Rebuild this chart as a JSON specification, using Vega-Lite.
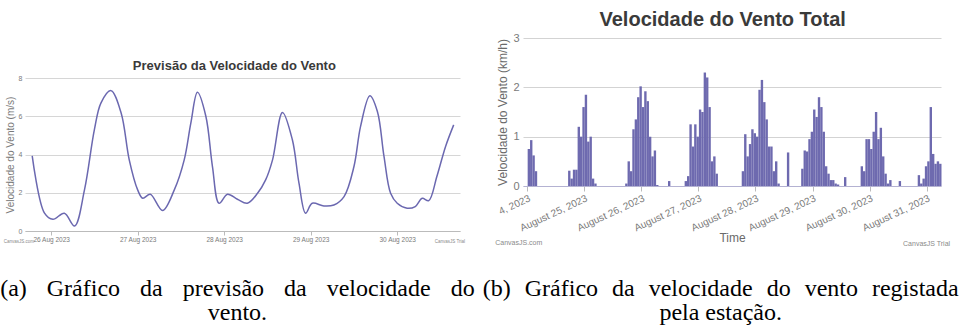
{
  "$schema": "https://vega.github.io/schema/vega-lite/v6.json",
  "padding": {"top": 10, "left": 0, "right": 0, "bottom": 0},
  "background": "white",
  "config": {
    "view": {"stroke": null},
    "font": "Liberation Sans",
    "axis": {"labelFont": "Liberation Sans", "titleFont": "Liberation Sans"}
  },
  "datasets": {
    "forecast": [
      {"t": "2023-08-25T18:45", "v": 3.93},
      {"t": "2023-08-25T22:10", "v": 0.93},
      {"t": "2023-08-26T00:30", "v": 0.61},
      {"t": "2023-08-26T03:40", "v": 0.93},
      {"t": "2023-08-26T06:30", "v": 0.26},
      {"t": "2023-08-26T09:15", "v": 2.15},
      {"t": "2023-08-26T12:00", "v": 5.3},
      {"t": "2023-08-26T13:50", "v": 6.7},
      {"t": "2023-08-26T16:35", "v": 7.34},
      {"t": "2023-08-26T19:25", "v": 6.17},
      {"t": "2023-08-26T21:40", "v": 3.72},
      {"t": "2023-08-27T00:00", "v": 2.15},
      {"t": "2023-08-27T01:25", "v": 1.71},
      {"t": "2023-08-27T03:30", "v": 1.92},
      {"t": "2023-08-27T06:55", "v": 1.07},
      {"t": "2023-08-27T10:10", "v": 2.15},
      {"t": "2023-08-27T12:55", "v": 3.72},
      {"t": "2023-08-27T14:45", "v": 5.64},
      {"t": "2023-08-27T16:35", "v": 7.25},
      {"t": "2023-08-27T18:55", "v": 6.0},
      {"t": "2023-08-27T20:45", "v": 3.37},
      {"t": "2023-08-27T22:35", "v": 1.45},
      {"t": "2023-08-28T00:55", "v": 1.92},
      {"t": "2023-08-28T03:40", "v": 1.66},
      {"t": "2023-08-28T06:25", "v": 1.45},
      {"t": "2023-08-28T09:15", "v": 1.97},
      {"t": "2023-08-28T11:30", "v": 2.67},
      {"t": "2023-08-28T13:25", "v": 3.72},
      {"t": "2023-08-28T16:10", "v": 6.2},
      {"t": "2023-08-28T18:55", "v": 4.77},
      {"t": "2023-08-28T20:45", "v": 2.5},
      {"t": "2023-08-28T22:35", "v": 0.93},
      {"t": "2023-08-29T00:25", "v": 1.45},
      {"t": "2023-08-29T03:40", "v": 1.31},
      {"t": "2023-08-29T06:25", "v": 1.36},
      {"t": "2023-08-29T09:15", "v": 1.8},
      {"t": "2023-08-29T12:00", "v": 3.37},
      {"t": "2023-08-29T13:50", "v": 5.47},
      {"t": "2023-08-29T16:25", "v": 7.07},
      {"t": "2023-08-29T18:30", "v": 6.25},
      {"t": "2023-08-29T20:20", "v": 3.9},
      {"t": "2023-08-29T22:10", "v": 1.97},
      {"t": "2023-08-30T00:00", "v": 1.45},
      {"t": "2023-08-30T02:45", "v": 1.19},
      {"t": "2023-08-30T05:00", "v": 1.28},
      {"t": "2023-08-30T06:55", "v": 1.71},
      {"t": "2023-08-30T08:45", "v": 1.59},
      {"t": "2023-08-30T11:00", "v": 2.85},
      {"t": "2023-08-30T13:25", "v": 4.42},
      {"t": "2023-08-30T15:40", "v": 5.55}
    ],
    "measured": [
      {"t": "2023-08-24T00:00", "v": 0.75}, {"t": "2023-08-24T01:00", "v": 0.93}, {"t": "2023-08-24T02:00", "v": 0.62}, {"t": "2023-08-24T03:00", "v": 0.3},
      {"t": "2023-08-24T17:00", "v": 0.31}, {"t": "2023-08-24T18:00", "v": 0.15}, {"t": "2023-08-24T19:00", "v": 0.33}, {"t": "2023-08-24T20:00", "v": 0.33},
      {"t": "2023-08-24T21:00", "v": 1.2}, {"t": "2023-08-24T22:00", "v": 1.0}, {"t": "2023-08-24T23:00", "v": 1.6},
      {"t": "2023-08-25T00:00", "v": 1.85}, {"t": "2023-08-25T01:00", "v": 0.9}, {"t": "2023-08-25T02:00", "v": 1.0}, {"t": "2023-08-25T03:00", "v": 0.15}, {"t": "2023-08-25T04:00", "v": 0.05},
      {"t": "2023-08-25T17:00", "v": 0.05}, {"t": "2023-08-25T18:00", "v": 0.5}, {"t": "2023-08-25T19:00", "v": 0.3}, {"t": "2023-08-25T20:00", "v": 1.15},
      {"t": "2023-08-25T21:00", "v": 1.35}, {"t": "2023-08-25T22:00", "v": 1.8}, {"t": "2023-08-25T23:00", "v": 2.02},
      {"t": "2023-08-26T00:00", "v": 1.6}, {"t": "2023-08-26T01:00", "v": 1.92}, {"t": "2023-08-26T02:00", "v": 1.72}, {"t": "2023-08-26T03:00", "v": 1.0},
      {"t": "2023-08-26T04:00", "v": 0.6}, {"t": "2023-08-26T05:00", "v": 0.72}, {"t": "2023-08-26T06:00", "v": 0.02}, {"t": "2023-08-26T11:00", "v": 0.1},
      {"t": "2023-08-26T18:00", "v": 0.1}, {"t": "2023-08-26T19:00", "v": 0.2}, {"t": "2023-08-26T20:00", "v": 1.25}, {"t": "2023-08-26T21:00", "v": 0.8},
      {"t": "2023-08-26T22:00", "v": 1.25}, {"t": "2023-08-26T23:00", "v": 1.0},
      {"t": "2023-08-27T00:00", "v": 1.55}, {"t": "2023-08-27T01:00", "v": 1.5}, {"t": "2023-08-27T02:00", "v": 2.3}, {"t": "2023-08-27T03:00", "v": 2.2},
      {"t": "2023-08-27T04:00", "v": 1.6}, {"t": "2023-08-27T05:00", "v": 0.5}, {"t": "2023-08-27T06:00", "v": 0.6}, {"t": "2023-08-27T07:00", "v": 0.25},
      {"t": "2023-08-27T18:00", "v": 0.3}, {"t": "2023-08-27T19:00", "v": 1.05}, {"t": "2023-08-27T20:00", "v": 0.6}, {"t": "2023-08-27T21:00", "v": 0.85},
      {"t": "2023-08-27T22:00", "v": 1.15}, {"t": "2023-08-27T23:00", "v": 1.07},
      {"t": "2023-08-28T00:00", "v": 1.0}, {"t": "2023-08-28T01:00", "v": 1.95}, {"t": "2023-08-28T02:00", "v": 2.15}, {"t": "2023-08-28T03:00", "v": 1.7},
      {"t": "2023-08-28T04:00", "v": 1.35}, {"t": "2023-08-28T05:00", "v": 0.8}, {"t": "2023-08-28T06:00", "v": 0.8}, {"t": "2023-08-28T07:00", "v": 0.3},
      {"t": "2023-08-28T08:00", "v": 0.5}, {"t": "2023-08-28T09:00", "v": 0.05}, {"t": "2023-08-28T13:00", "v": 0.68},
      {"t": "2023-08-28T19:00", "v": 0.35}, {"t": "2023-08-28T20:00", "v": 0.72}, {"t": "2023-08-28T21:00", "v": 0.7}, {"t": "2023-08-28T22:00", "v": 0.95}, {"t": "2023-08-28T23:00", "v": 1.1},
      {"t": "2023-08-29T00:00", "v": 1.55}, {"t": "2023-08-29T01:00", "v": 1.4}, {"t": "2023-08-29T02:00", "v": 1.8}, {"t": "2023-08-29T03:00", "v": 1.6},
      {"t": "2023-08-29T04:00", "v": 1.1}, {"t": "2023-08-29T05:00", "v": 0.4}, {"t": "2023-08-29T06:00", "v": 0.25}, {"t": "2023-08-29T07:00", "v": 0.12},
      {"t": "2023-08-29T08:00", "v": 0.12}, {"t": "2023-08-29T09:00", "v": 0.05}, {"t": "2023-08-29T10:00", "v": 0.03}, {"t": "2023-08-29T13:00", "v": 0.18},
      {"t": "2023-08-29T20:00", "v": 0.4}, {"t": "2023-08-29T21:00", "v": 0.3}, {"t": "2023-08-29T22:00", "v": 0.95}, {"t": "2023-08-29T23:00", "v": 0.95},
      {"t": "2023-08-30T00:00", "v": 0.75}, {"t": "2023-08-30T01:00", "v": 1.1}, {"t": "2023-08-30T02:00", "v": 1.5}, {"t": "2023-08-30T03:00", "v": 0.95},
      {"t": "2023-08-30T04:00", "v": 1.18}, {"t": "2023-08-30T05:00", "v": 0.6}, {"t": "2023-08-30T06:00", "v": 0.25}, {"t": "2023-08-30T07:00", "v": 0.05},
      {"t": "2023-08-30T08:00", "v": 0.12}, {"t": "2023-08-30T12:00", "v": 0.1},
      {"t": "2023-08-30T20:00", "v": 0.22}, {"t": "2023-08-30T21:00", "v": 0.05}, {"t": "2023-08-30T22:00", "v": 0.15}, {"t": "2023-08-30T23:00", "v": 0.4},
      {"t": "2023-08-31T00:00", "v": 0.5}, {"t": "2023-08-31T01:00", "v": 1.6}, {"t": "2023-08-31T02:00", "v": 0.65}, {"t": "2023-08-31T03:00", "v": 0.45},
      {"t": "2023-08-31T04:00", "v": 0.5}, {"t": "2023-08-31T05:00", "v": 0.45}
    ]
  },
  "spacing": 7,
  "hconcat": [
    {
      "title": {
        "text": ["(a)\u00a0\u00a0\u00a0\u200aGráfico\u00a0\u00a0\u00a0\u200ada\u00a0\u00a0\u00a0\u200aprevisão\u00a0\u00a0\u00a0\u200ada\u00a0\u00a0\u00a0\u200avelocidade\u00a0\u00a0\u00a0\u200ado", "vento."],
        "orient": "bottom", "anchor": "middle", "frame": "bounds", "font": "Liberation Serif", "fontSize": 24,
        "fontWeight": "normal", "lineHeight": 24, "color": "#000000", "offset": 33, "dx": 3
      },
      "spacing": 0,
      "vconcat": [
        {
          "width": 10,
          "height": 22,
          "data": {"values": []},
          "mark": "point"
        },
        {
          "width": 435,
          "height": 153,
          "title": {
            "text": "Previsão da Velocidade do Vento",
            "fontSize": 13, "fontWeight": "bold", "color": "#3a3a3a", "offset": 1, "frame": "bounds", "anchor": "middle"
          },
          "layer": [
            {
              "data": {"name": "forecast"},
              "mark": {"type": "line", "interpolate": "catmull-rom", "color": "#6b68b0", "strokeWidth": 1.5},
              "encoding": {
                "x": {
                  "field": "t", "type": "temporal",
                  "scale": {"domain": [
                    {"year": 2023, "month": "August", "date": 25, "hours": 16, "minutes": 45},
                    {"year": 2023, "month": "August", "date": 30, "hours": 17, "minutes": 25}
                  ]},
                  "axis": {
                    "title": null, "format": "%d %b %Y", "tickCount": {"interval": "day", "step": 1},
                    "labelFontSize": 6.5, "labelColor": "#7a7a7a", "grid": false,
                    "domainColor": "#bbbbbb", "tickColor": "#bbbbbb", "tickSize": 4, "labelPadding": 1
                  }
                },
                "y": {
                  "field": "v", "type": "quantitative",
                  "scale": {"domain": [0, 8]},
                  "axis": {
                    "values": [0, 2, 4, 6, 8], "tickCount": 5, "labelFontSize": 7, "labelColor": "#7a7a7a",
                    "ticks": false, "domain": false, "gridColor": "#d6d6d6", "labelPadding": 3,
                    "title": "Velocidade do Vento (m/s)", "titleFontSize": 10, "titleFontWeight": "normal",
                    "titleColor": "#7a7a7a", "titlePadding": 3
                  }
                }
              }
            },
            {
              "data": {"values": [{"label": "CanvasJS.com"}]},
              "mark": {"type": "text", "fontSize": 4.5, "color": "#8a8a8a", "align": "left", "baseline": "middle"},
              "encoding": {
                "x": {"datum": {"year": 2023, "month": "August", "date": 25, "hours": 10, "minutes": 50}, "type": "temporal"},
                "y": {"datum": -0.57, "type": "quantitative"},
                "text": {"field": "label"}
              }
            },
            {
              "data": {"values": [{"label": "CanvasJS Trial"}]},
              "mark": {"type": "text", "fontSize": 4.5, "color": "#8a8a8a", "align": "right", "baseline": "middle"},
              "encoding": {
                "x": {"datum": {"year": 2023, "month": "August", "date": 30, "hours": 18, "minutes": 50}, "type": "temporal"},
                "y": {"datum": -0.6, "type": "quantitative"},
                "text": {"field": "label"}
              }
            }
          ]
        }
      ]
    },
    {
      "title": {
        "text": ["(b)\u00a0\u00a0\u200aGráfico\u00a0\u00a0\u200ada\u00a0\u00a0\u200avelocidade\u00a0\u00a0\u200ado\u00a0\u00a0\u200avento\u00a0\u00a0\u200aregistada", "pela estação."],
        "orient": "bottom", "anchor": "middle", "frame": "bounds", "font": "Liberation Serif", "fontSize": 24,
        "fontWeight": "normal", "lineHeight": 24, "color": "#000000", "offset": 30, "dx": -2
      },
      "vconcat": [
        {
          "width": 418,
          "height": 148,
          "title": {
            "text": "Velocidade do Vento Total",
            "fontSize": 20, "fontWeight": "bold", "color": "#3a3a3a", "offset": 2, "frame": "bounds", "anchor": "middle"
          },
          "layer": [
            {
              "data": {"name": "measured"},
              "mark": {"type": "bar", "color": "#6e6aaf", "binSpacing": 0},
              "encoding": {
                "x": {
                  "field": "t", "type": "temporal", "timeUnit": "yearmonthdatehours",
                  "scale": {"domain": [
                    {"year": 2023, "month": "August", "date": 23, "hours": 22, "minutes": 15},
                    {"year": 2023, "month": "August", "date": 31, "hours": 6, "minutes": 0}
                  ]},
                  "axis": {
                    "title": "Time", "titleFontSize": 12, "titleFontWeight": "normal", "titleColor": "#6a6a6a", "titlePadding": 0,
                    "tickCount": {"interval": "day", "step": 1}, "labelOverlap": false,
                    "labelExpr": "timeFormat(datum.value, '%-d') == '24' ? '4, 2023' : timeFormat(datum.value, '%B %-d, %Y')",
                    "labelAngle": -25, "labelFontSize": 10, "labelColor": "#7a7a7a", "grid": false,
                    "domainColor": "#b4b2d2", "tickColor": "#bbbbbb", "tickSize": 5, "labelPadding": 2
                  }
                },
                "y": {
                  "field": "v", "type": "quantitative",
                  "scale": {"domain": [0, 3]},
                  "axis": {
                    "values": [0, 1, 2, 3], "tickCount": 4, "labelFontSize": 11, "labelColor": "#7a7a7a",
                    "ticks": false, "domain": false, "gridColor": "#d3d3d3", "labelPadding": 4,
                    "title": "Velocidade do Vento (km/h)", "titleFontSize": 12, "titleFontWeight": "normal",
                    "titleColor": "#6a6a6a", "titlePadding": 3
                  }
                }
              }
            },
            {
              "data": {"values": [{"label": "CanvasJS.com"}]},
              "mark": {"type": "text", "fontSize": 7, "color": "#8a8a8a", "align": "left", "baseline": "middle"},
              "encoding": {
                "x": {"datum": {"year": 2023, "month": "August", "date": 23, "hours": 10, "minutes": 35}, "type": "temporal"},
                "y": {"datum": -1.16, "type": "quantitative", "axis": {
                    "values": [0, 1, 2, 3], "tickCount": 4, "labelFontSize": 11, "labelColor": "#7a7a7a",
                    "ticks": false, "domain": false, "gridColor": "#d3d3d3", "labelPadding": 4,
                    "title": "Velocidade do Vento (km/h)", "titleFontSize": 12, "titleFontWeight": "normal",
                    "titleColor": "#6a6a6a", "titlePadding": 3
                  }},
                "text": {"field": "label"}
              }
            },
            {
              "data": {"values": [{"label": "CanvasJS Trial"}]},
              "mark": {"type": "text", "fontSize": 7, "color": "#8a8a8a", "align": "right", "baseline": "middle"},
              "encoding": {
                "x": {"datum": {"year": 2023, "month": "August", "date": 31, "hours": 9, "minutes": 50}, "type": "temporal"},
                "y": {"datum": -1.18, "type": "quantitative", "axis": {
                    "values": [0, 1, 2, 3], "tickCount": 4, "labelFontSize": 11, "labelColor": "#7a7a7a",
                    "ticks": false, "domain": false, "gridColor": "#d3d3d3", "labelPadding": 4,
                    "title": "Velocidade do Vento (km/h)", "titleFontSize": 12, "titleFontWeight": "normal",
                    "titleColor": "#6a6a6a", "titlePadding": 3
                  }},
                "text": {"field": "label"}
              }
            }
          ]
        }
      ]
    }
  ]
}
